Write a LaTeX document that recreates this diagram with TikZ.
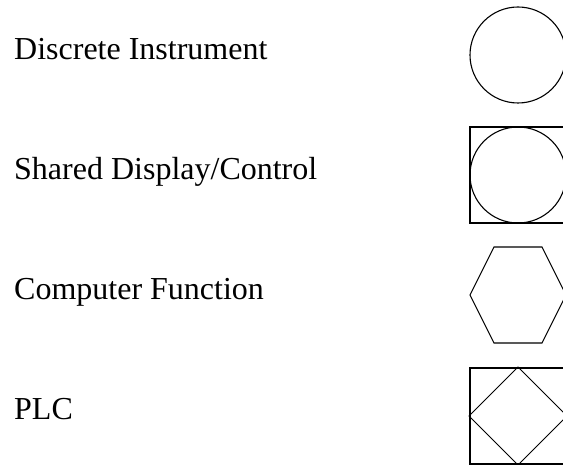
\documentclass[tikz,border=0pt]{standalone}
\usepackage{fontspec}
\setmainfont{Liberation Serif}
\begin{document}
\begin{tikzpicture}[x=1pt,y=-1pt,
  lbl/.style={anchor=base west,inner sep=0pt,font=\fontsize{32}{38}\selectfont},
  ring/.style={circle,draw,line width=1.1pt,minimum size=96pt,inner sep=0pt},
  frame/.style={rectangle,draw,line width=2pt,minimum size=96pt,inner sep=0pt},
  thin/.style={line width=0.9pt}]
\useasboundingbox (0,0) rectangle (563,465);
\node[lbl] (t1) at (14,60) {Discrete Instrument};
\node[lbl] (t2) at (14,180) {Shared Display/Control};
\node[lbl] (t3) at (14,300) {Computer Function};
\node[lbl] (t4) at (14,420) {PLC};
% discrete instrument
\node[ring] (c1) at (518,55) {};
% shared display
\node[frame] (b2) at (518,175) {};
\node[ring] (c2) at (518,175) {};
% computer function
\coordinate (h) at (518,295);
\draw[line width=1.1pt,line join=miter] ([shift={(-48,0)}]h) -- ([shift={(-24,-48)}]h) -- ([shift={(24,-48)}]h) -- ([shift={(48,0)}]h) -- ([shift={(24,48)}]h) -- ([shift={(-24,48)}]h) -- cycle;
% PLC
\node[frame] (b4) at (518,416) {};
\draw[thin] (b4.north) -- (b4.east) -- (b4.south) -- (b4.west) -- cycle;
\end{tikzpicture}
\end{document}
